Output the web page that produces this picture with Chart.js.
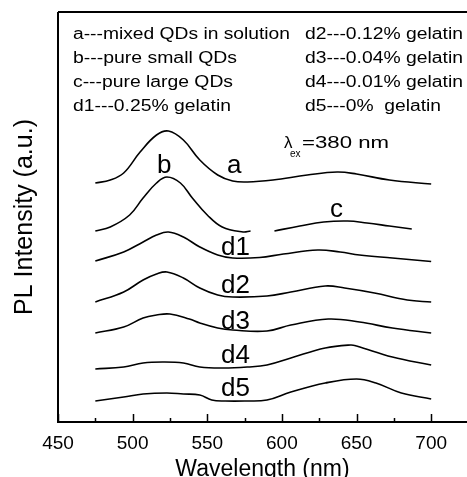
<!DOCTYPE html>
<html>
<head>
<meta charset="utf-8">
<script src="https://cdn.jsdelivr.net/npm/chart.js@4"></script>
<style>
  html, body { margin: 0; padding: 0; background: #fff; }
  canvas { display: block; }
</style>
</head>
<body>
<canvas id="plChart" width="467" height="477" style="width:467px;height:477px"></canvas>
<script>
// wavelength (nm) / PL intensity (a.u., curves stacked with offsets)
const wlA  = [475, 485, 494, 505, 516, 524, 534, 545, 557, 567, 577, 594, 617, 637, 650, 672, 700];
const intA = [239, 242, 249, 270, 287, 291, 282, 262, 247, 241, 240, 242, 247, 250, 248, 242, 238];

const wlB  = [475, 485, 498, 507, 516, 523, 532, 540, 550, 560, 574, 579];
const intB = [191, 195, 207, 224, 239, 245, 239, 224, 207, 195, 190, 191];

const wlC  = [595, 612, 628, 644, 657, 672, 687];
const intC = [191, 196, 200, 201, 199, 196, 193];

const wlD1  = [475, 494, 507, 516, 524, 534, 545, 557, 567, 585, 601, 624, 639, 652, 674, 700];
const intD1 = [161, 170, 180, 187, 190, 185, 175, 167, 164, 164.5, 168, 172, 170, 167, 164, 160.5];

const wlD2  = [475, 494, 507, 516, 523, 534, 545, 557, 567, 590, 606, 629, 642, 662, 684, 700];
const intD2 = [120, 130, 142, 148, 150, 144, 134, 127, 125, 126, 130, 136, 134, 129, 122, 120];

const wlD3  = [475, 494, 507, 516, 525, 538, 545, 557, 567, 590, 606, 631, 652, 674, 700];
const intD3 = [89, 95, 104, 107, 108, 103, 99, 94, 92, 91, 97, 103, 100, 94, 89];

const wlD4  = [475, 494, 507, 520, 534, 545, 561, 577, 590, 606, 629, 646, 650, 674, 700];
const intD4 = [53, 55, 59, 60, 59, 55, 54, 55, 57, 64, 74, 77, 76, 65, 57];

const wlD5  = [475, 494, 507, 523, 534, 545, 553, 562, 575, 590, 606, 629, 650, 663, 680, 700];
const intD5 = [21, 25, 28, 29, 28, 27, 22, 21, 21, 22, 30, 39, 43, 39, 29, 23];

const xTicks = [450, 500, 550, 600, 650, 700];
const xMinorTicks = [475, 525, 575, 625, 675];

const FONT = '"Liberation Sans", Arial, sans-serif';

function series(wl, vals) {
  return {
    data: wl.map((w, i) => ({ x: w, y: vals[i] })),
    borderColor: '#000',
    borderWidth: 1.6,
    pointRadius: 0,
    fill: false,
    tension: 0.4
  };
}

// draw text squeezed/stretched to a given width (the original lettering is wide)
function wideText(c, txt, x, y, size, width) {
  c.save();
  c.font = size + 'px ' + FONT;
  const w = c.measureText(txt).width;
  c.translate(x, y);
  c.scale(width ? width / w : 1, 1);
  c.fillText(txt, 0, 0);
  c.restore();
}

const framePlugin = {
  id: 'frame',
  afterDraw(chart) {
    const c = chart.ctx;
    const a = chart.chartArea;
    const xs = chart.scales.x;
    c.save();
    c.strokeStyle = '#000';
    c.lineWidth = 2;
    c.beginPath();
    c.moveTo(a.left, a.top);
    c.lineTo(a.left, a.bottom);
    c.lineTo(a.right + 2, a.bottom);
    c.moveTo(a.left, a.top);
    c.lineTo(a.right + 2, a.top);
    c.stroke();

    // inward ticks on the bottom axis
    c.lineWidth = 1.5;
    c.beginPath();
    xTicks.forEach(v => {
      const px = Math.round(xs.getPixelForValue(v)) + 0.5;
      c.moveTo(px, a.bottom);
      c.lineTo(px, a.bottom - 8);
    });
    xMinorTicks.forEach(v => {
      const px = Math.round(xs.getPixelForValue(v)) + 0.5;
      c.moveTo(px, a.bottom);
      c.lineTo(px, a.bottom - 4);
    });
    c.stroke();

    c.fillStyle = '#000';
    c.textBaseline = 'alphabetic';
    // key text
    wideText(c, 'a---mixed QDs in solution', 73, 39, 16, 217);
    wideText(c, 'b---pure small QDs', 73, 63, 16, 164);
    wideText(c, 'c---pure large QDs', 73, 87, 16, 160);
    wideText(c, 'd1---0.25% gelatin', 73, 111, 16, 158);
    wideText(c, 'd2---0.12% gelatin', 305, 39, 16, 158);
    wideText(c, 'd3---0.04% gelatin', 305, 63, 16, 158);
    wideText(c, 'd4---0.01% gelatin', 305, 87, 16, 158);
    wideText(c, 'd5---0%  gelatin', 305, 111, 16, 136);

    // excitation wavelength
    wideText(c, 'λ', 284, 148, 17);
    wideText(c, 'ex', 290, 157, 10);
    wideText(c, '=380 nm', 302, 148, 17, 87);

    // curve labels
    wideText(c, 'a', 227, 173, 26);
    wideText(c, 'b', 157, 173, 26);
    wideText(c, 'c', 330, 217, 26);
    wideText(c, 'd1', 221, 255, 26);
    wideText(c, 'd2', 221, 293, 26);
    wideText(c, 'd3', 221, 329, 26);
    wideText(c, 'd4', 221, 363, 26);
    wideText(c, 'd5', 221, 396, 26);
    c.restore();
  }
};

const ctx = document.getElementById('plChart').getContext('2d');
const chart = new Chart(ctx, {
  type: 'line',
  data: {
    datasets: [
      series(wlA, intA),
      series(wlB, intB),
      series(wlC, intC),
      series(wlD1, intD1),
      series(wlD2, intD2),
      series(wlD3, intD3),
      series(wlD4, intD4),
      series(wlD5, intD5)
    ]
  },
  options: {
    responsive: false,
    animation: false,
    layout: { padding: { top: 12, left: 0, right: 0, bottom: 0 } },
    plugins: {
      legend: { display: false },
      tooltip: { enabled: false }
    },
    scales: {
      x: {
        type: 'linear',
        min: 450,
        max: 724,
        afterBuildTicks: s => { s.ticks = xTicks.map(v => ({ value: v })); },
        afterFit: s => { s.height = 55; },
        grid: { display: false, drawTicks: false },
        border: { display: false },
        ticks: {
          color: '#000',
          font: { family: FONT, size: 19 },
          padding: 10,
          maxRotation: 0,
          autoSkip: false
        },
        title: {
          display: true,
          text: 'Wavelength (nm)',
          color: '#000',
          font: { family: FONT, size: 23 },
          padding: { top: 0, bottom: -6 }
        }
      },
      y: {
        min: 0,
        max: 410,
        afterFit: s => { s.width = 58; },
        grid: { display: false, drawTicks: false },
        border: { display: false },
        ticks: { display: false },
        title: {
          display: true,
          text: 'PL Intensity (a.u.)',
          color: '#000',
          font: { family: FONT, size: 25 },
          padding: { top: 10, bottom: 0 }
        }
      }
    }
  },
  plugins: [framePlugin]
});
</script>
</body>
</html>
